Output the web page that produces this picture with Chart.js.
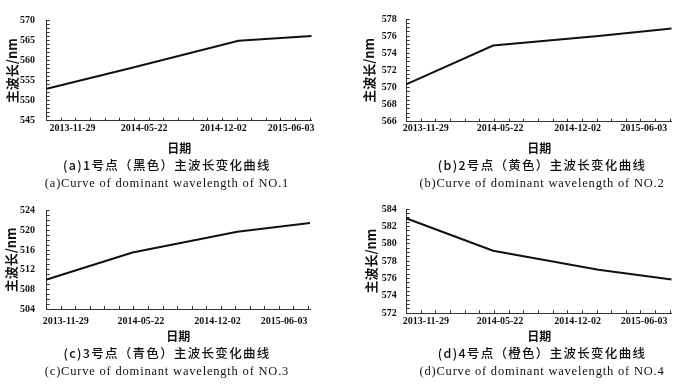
<!DOCTYPE html>
<html>
<head>
<meta charset="utf-8">
<script src="https://cdn.jsdelivr.net/npm/chart.js@4"></script>
<style>
body{margin:0;background:#fff;width:700px;height:390px;position:relative;overflow:hidden}
canvas{position:absolute}
.cap{position:absolute;width:340px;text-align:center;white-space:nowrap;color:#111;line-height:16px}
.zh{font-family:"Noto Sans CJK SC";font-size:12.5px;letter-spacing:1.3px;font-weight:500}
.en{font-family:"Liberation Serif";font-size:12.5px;letter-spacing:0.8px}
</style>
</head>
<body>
<canvas id="ca" width="340" height="158" style="left:0;top:0"></canvas>
<canvas id="cb" width="340" height="158" style="left:350px;top:0"></canvas>
<canvas id="cc" width="340" height="155" style="left:0;top:190px"></canvas>
<canvas id="cd" width="340" height="155" style="left:350px;top:190px"></canvas>

<div class="cap zh" style="left:-3px;top:157px">(a)1号点（黑色）主波长变化曲线</div>
<div class="cap en" style="left:-3px;top:175px">(a)Curve of dominant wavelength of NO.1</div>
<div class="cap zh" style="left:372px;top:157px">(b)2号点（黄色）主波长变化曲线</div>
<div class="cap en" style="left:372px;top:175px">(b)Curve of dominant wavelength of NO.2</div>
<div class="cap zh" style="left:-3px;top:345px">(c)3号点（青色）主波长变化曲线</div>
<div class="cap en" style="left:-3px;top:363px">(c)Curve of dominant wavelength of NO.3</div>
<div class="cap zh" style="left:372px;top:345px">(d)4号点（橙色）主波长变化曲线</div>
<div class="cap en" style="left:372px;top:363px">(d)Curve of dominant wavelength of NO.4</div>

<script>
// tick labels on the date axis
var dates = ['2013-11-29', '2014-05-22', '2014-12-02', '2015-06-03'];
// sampling time, in months after 2013-11-29
var sampleMonth = [0, 5.9, 13.1, 18.1];
// dominant wavelength (nm) of each point
var point1 = [553.0, 558.3, 565.0, 566.2];
var point2 = [570.4, 574.9, 576.0, 576.9];
var point3 = [510.0, 515.5, 519.7, 521.5];
var point4 = [582.9, 579.2, 577.0, 575.9];

Chart.defaults.font.family = 'Liberation Serif';
Chart.defaults.color = '#111';

function disegna(id, valori, yMin, yMax, yStep, yOgni, posEtichette, lay) {
    var punti = [];
    for (var i = 0; i < valori.length; i++) {
        punti.push({x: sampleMonth[i], y: valori[i]});
    }
    var nascosto = function(c) {
        return c.tick && posEtichette.indexOf(c.tick.value) >= 0 ? 'rgba(0,0,0,0)' : '#333';
    };
    new Chart(document.getElementById(id), {
        type: 'line',
        data: {
            datasets: [{
                data: punti,
                borderColor: '#111',
                borderWidth: 2,
                pointRadius: 0,
                tension: 0,
                fill: false
            }]
        },
        options: {
            responsive: false,
            animation: false,
            events: [],
            layout: {padding: {left: 0, top: lay.top, right: lay.right, bottom: 0}},
            plugins: {legend: {display: false}, tooltip: {enabled: false}},
            scales: {
                x: {
                    type: 'linear',
                    min: 0,
                    max: 18.1,
                    afterBuildTicks: function(s) {
                        var t = [];
                        for (var m = 0; m <= 18; m++) t.push(m);
                        t = t.concat(posEtichette).sort(function(a, b) { return a - b; });
                        s.ticks = t.map(function(v) { return {value: v}; });
                    },
                    afterFit: function(s) { s.height = lay.xh; },
                    grid: {drawOnChartArea: false, tickLength: -3, tickColor: nascosto},
                    border: {color: '#333', width: 1},
                    ticks: {
                        autoSkip: false,
                        maxRotation: 0,
                        padding: lay.xpad,
                        font: {size: 10, weight: 'bold'},
                        callback: function(v) {
                            var i = posEtichette.indexOf(v);
                            return i >= 0 ? dates[i] : '';
                        }
                    },
                    title: {
                        display: true,
                        text: '日期',
                        font: {family: 'Noto Sans CJK SC', size: 12, weight: 'bold'},
                        padding: {top: 0, bottom: lay.tpad}
                    }
                },
                y: {
                    min: yMin,
                    max: yMax,
                    afterBuildTicks: function(s) {
                        var t = [];
                        for (var v = yMin; v <= yMax + 1e-6; v += yStep) t.push({value: Math.round(v * 10) / 10});
                        s.ticks = t;
                    },
                    afterFit: function(s) { s.width = lay.yw; },
                    grid: {drawOnChartArea: false, tickLength: -3, tickColor: '#333'},
                    border: {color: '#333', width: 1},
                    ticks: {
                        autoSkip: false,
                        padding: lay.ypad,
                        font: {size: 10, weight: 'bold'},
                        callback: function(v) {
                            var r = v / yOgni;
                            return Math.abs(r - Math.round(r)) < 1e-6 ? v : '';
                        }
                    },
                    title: {
                        display: true,
                        text: '主波长/nm',
                        font: {family: 'Noto Sans CJK SC', size: 13, weight: 'bold'},
                        padding: {top: lay.ytpad, bottom: 0}
                    }
                }
            }
        }
    });
}

disegna('ca', point1, 545, 570, 1, 5, [1.76, 6.65, 12.07, 16.7],
    {top: 10, right: 28.3, xh: 37.3, yw: 46.7, xpad: 4.6, ypad: 14.7, tpad: 2.5, ytpad: 4.2});
disegna('cb', point2, 566, 578, 0.5, 2, [1.3, 6.38, 11.67, 16.2],
    {top: 10, right: 18.3, xh: 36.3, yw: 56.7, xpad: 3.6, ypad: 13, tpad: 2.5, ytpad: 11.2});
disegna('cc', point3, 504, 524, 1, 4, [1.31, 6.47, 11.74, 16.32],
    {top: 11, right: 30, xh: 36, yw: 46.7, xpad: 9.7, ypad: 14.7, tpad: 1.1, ytpad: 3.2});
disegna('cd', point4, 572, 584, 0.5, 2, [1.31, 6.37, 11.67, 16.22],
    {top: 11.7, right: 18.3, xh: 31.7, yw: 56.7, xpad: 5.4, ypad: 13, tpad: 1.1, ytpad: 13.2});
</script>
</body>
</html>
